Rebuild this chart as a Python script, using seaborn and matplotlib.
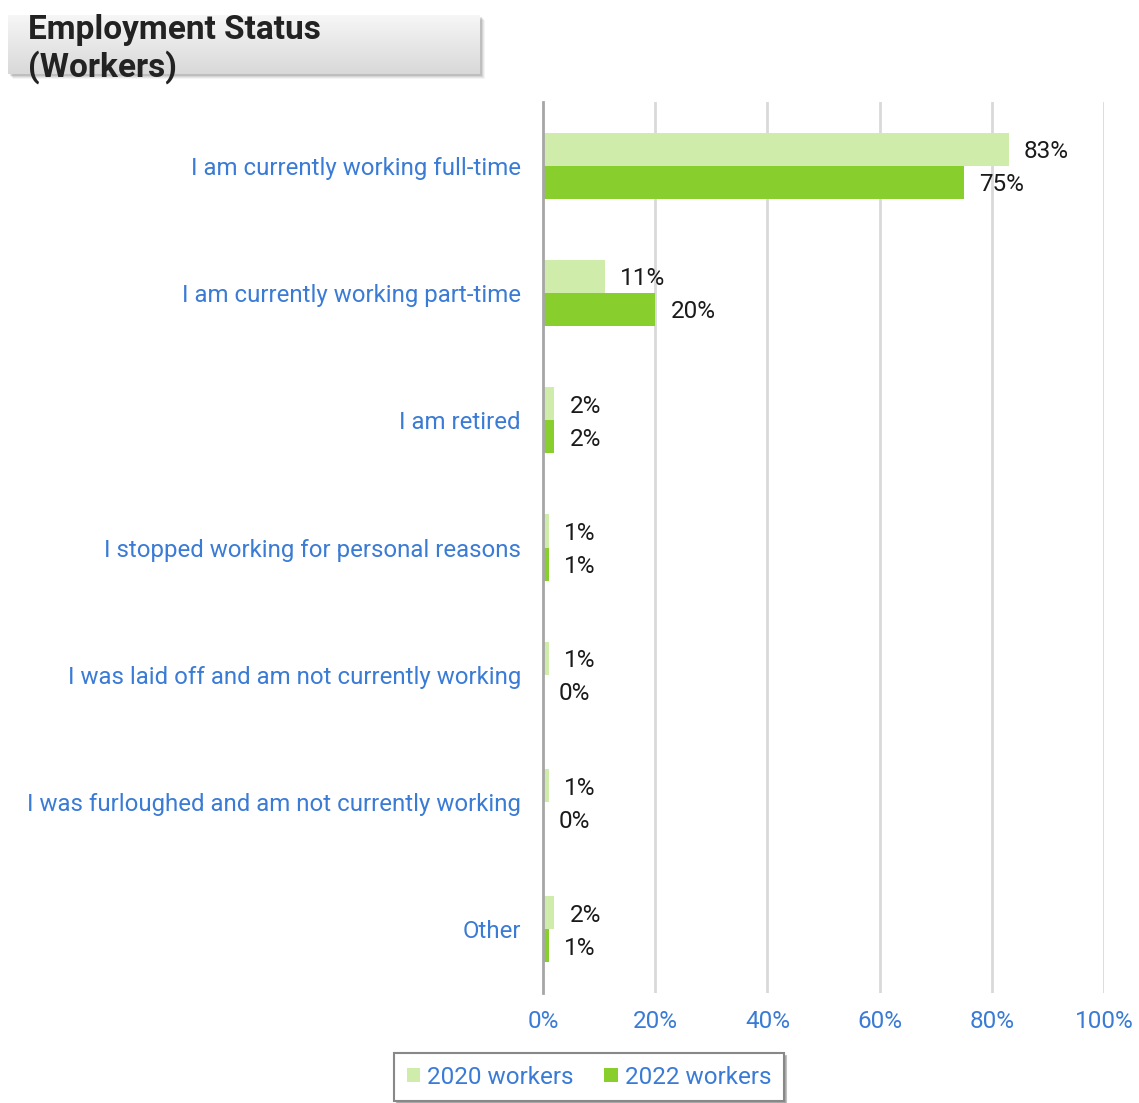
import numpy as np
import pandas as pd
import matplotlib
matplotlib.use("Agg")
import matplotlib.pyplot as plt
from matplotlib.patches import Rectangle, Patch
import seaborn as sns

# Survey responses: employment status of workers
categories = [
    "I am currently working full-time",
    "I am currently working part-time",
    "I am retired",
    "I stopped working for personal reasons",
    "I was laid off and am not currently working",
    "I was furloughed and am not currently working",
    "Other",
]
series_names = ["2020 workers", "2022 workers"]
values_2020 = [83, 11, 2, 1, 1, 1, 2]
values_2022 = [75, 20, 2, 1, 0, 0, 1]
x_ticks = [0, 20, 40, 60, 80, 100]
x_tick_labels = ["0%", "20%", "40%", "60%", "80%", "100%"]

colors = ["#d0ecab", "#88cf2e"]
blue = "#3a7bd5"
fs = 17.3

df = pd.DataFrame({
    "status": categories * 2,
    "group": [series_names[0]] * len(categories) + [series_names[1]] * len(categories),
    "pct": values_2020 + values_2022,
})

sns.set_theme(style="white")
plt.rcParams["font.family"] = ["Roboto", "DejaVu Sans"]

W, H = 1139, 1103
fig = plt.figure(figsize=(W / 100, H / 100), dpi=100)
ax = fig.add_axes([543 / W, 1 - 993 / H, (1104 - 543) / W, (993 - 102) / H])

sns.barplot(data=df, y="status", x="pct", hue="group", order=categories,
            hue_order=series_names, palette=colors, orient="h",
            width=0.52, saturation=1, ax=ax, legend=False, errorbar=None)

ax.set_xlim(0, 100)
ax.set_ylim(len(categories) - 0.5, -0.5)
ax.set_xticks(x_ticks)
ax.set_xticklabels(x_tick_labels)
ax.set_xlabel("")
ax.set_ylabel("")
ax.tick_params(axis="x", length=0, pad=12, labelsize=17.5, labelcolor=blue)
ax.tick_params(axis="y", length=0, pad=16, labelsize=fs, labelcolor=blue)
for lbl in ax.get_yticklabels():
    lbl.set_y(lbl.get_position()[1])
    lbl.set_va("center_baseline")

for x in x_ticks[1:]:
    ax.axvline(x, color="#d9d9d9", lw=2, zorder=0)
for side in ["top", "right", "bottom"]:
    ax.spines[side].set_visible(False)
ax.spines["left"].set_color("#a6a6a6")
ax.spines["left"].set_linewidth(2)

for cont, vals in zip(ax.containers, [values_2020, values_2022]):
    for bar in cont:
        bar.set_edgecolor("none")
    texts = ax.bar_label(cont, labels=[f"{v}%" for v in vals], padding=11,
                         fontsize=17.5, color="#1a1a1a")
    for t in texts:
        t.set_va("center_baseline")

# Title box with gradient and soft shadow
bx0, by0, bx1, by1 = 8, 15, 480, 74
for i, a in enumerate([0.10, 0.08, 0.06, 0.04]):
    off = 2 + i
    fig.patches.append(Rectangle(((bx0 + off) / W, 1 - (by1 + off) / H),
                                 (bx1 - bx0) / W, (by1 - by0) / H,
                                 transform=fig.transFigure, facecolor="black",
                                 alpha=a, edgecolor="none", zorder=1))
tax = fig.add_axes([bx0 / W, 1 - by1 / H, (bx1 - bx0) / W, (by1 - by0) / H], zorder=2)
grad = np.linspace(0.965, 0.85, 64).reshape(-1, 1)
tax.imshow(np.dstack([grad, grad, grad]), aspect="auto", extent=[0, 1, 0, 1])
tax.set_axis_off()
fig.text(28 / W, 1 - 14 / H, "Employment Status\n(Workers)", ha="left", va="top",
         fontsize=24, fontweight="bold", color="#222222", linespacing=1.15, zorder=5)

# Legend
handles = [Patch(facecolor=c, edgecolor="none") for c in colors]
leg = fig.legend(handles, series_names, loc="center",
                 bbox_to_anchor=(589 / W, 1 - 1077 / H), ncol=2, frameon=True,
                 fancybox=False, shadow={"color": "#999999", "alpha": 0.6},
                 fontsize=17.5, handlelength=0.55, handleheight=0.55,
                 handletextpad=0.3, columnspacing=1.25, borderpad=0.5,
                 borderaxespad=0)
leg.get_frame().set_edgecolor("#888888")
leg.get_frame().set_linewidth(1.5)
for t in leg.get_texts():
    t.set_color(blue)

fig.savefig("out.png", dpi=100)
